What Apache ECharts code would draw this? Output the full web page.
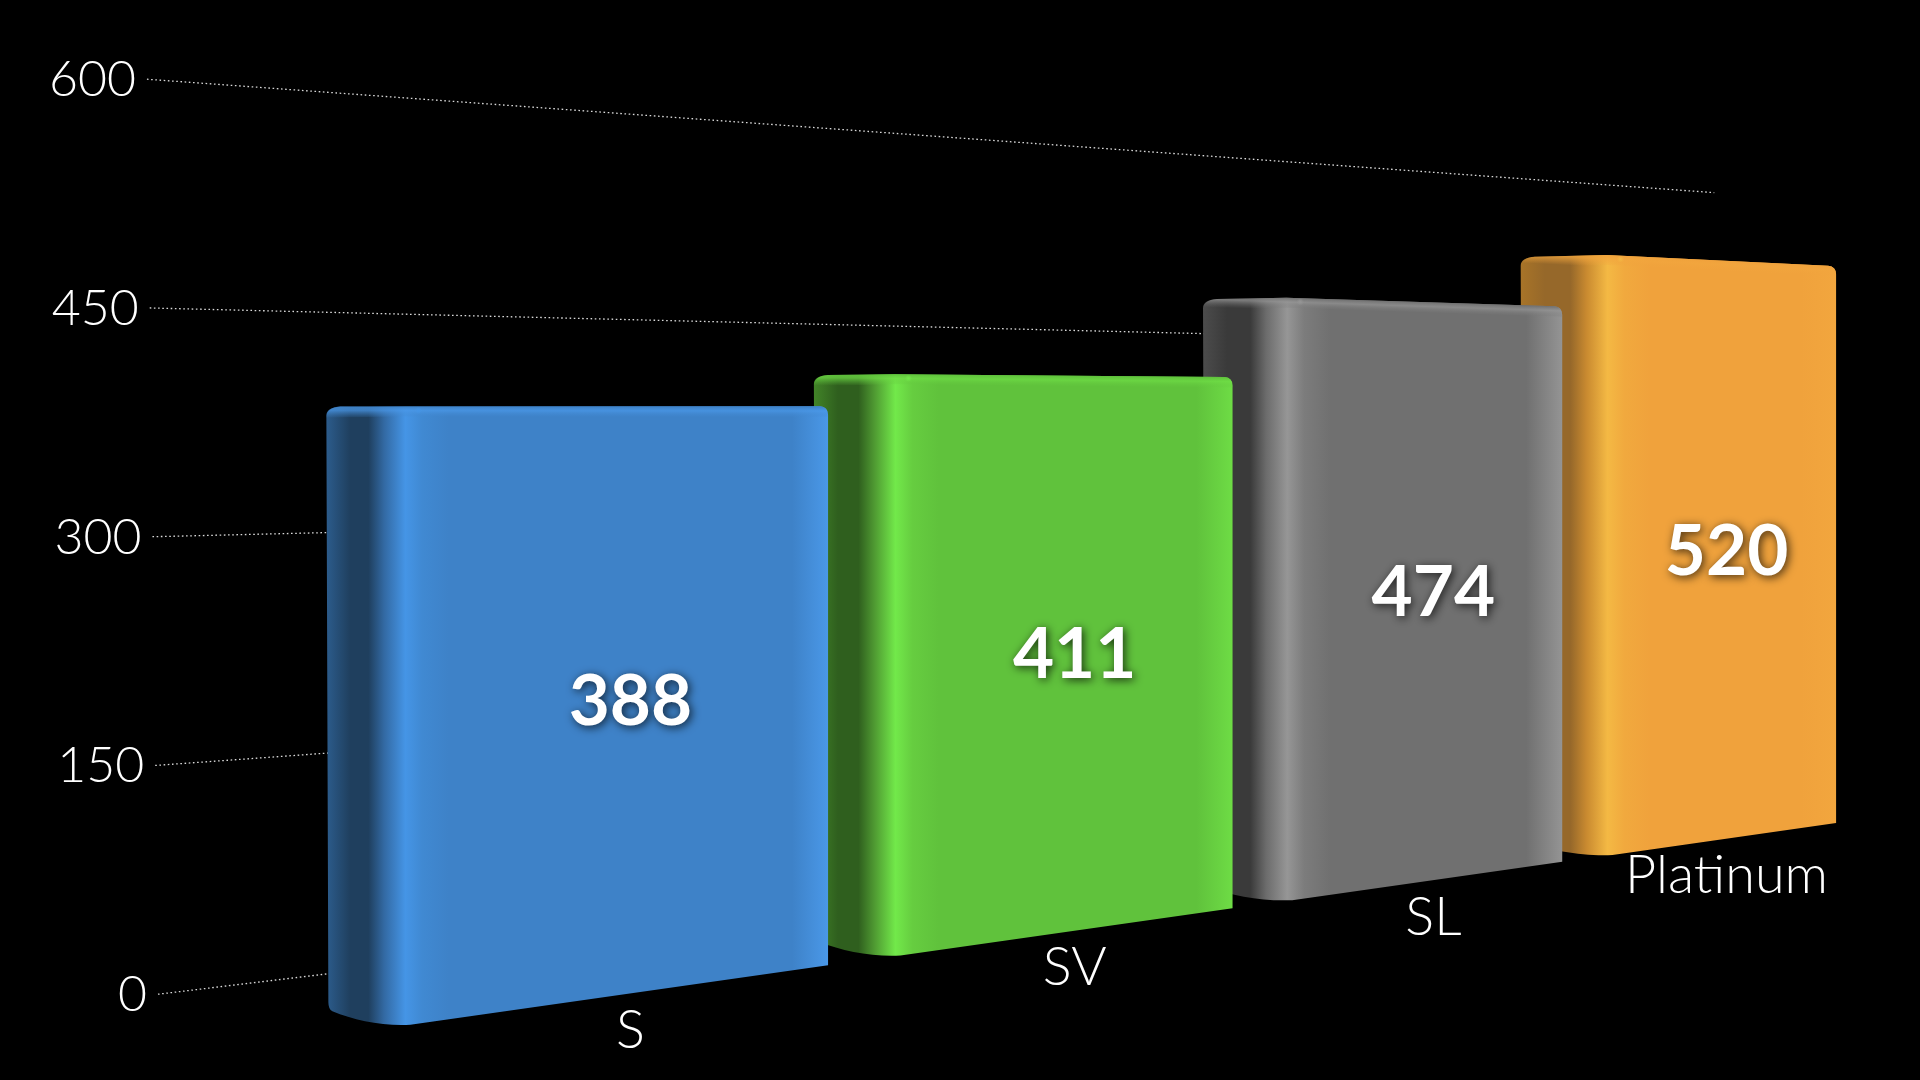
<!DOCTYPE html>
<html>
<head>
<meta charset="utf-8">
<style>html,body{margin:0;padding:0;background:#000}#c{width:1920px;height:1080px}</style>
<script src="https://cdn.jsdelivr.net/npm/echarts@6/dist/echarts.min.js"></script>
</head>
<body>
<div id="c"></div>
<script>
const categories = ['S', 'SV', 'SL', 'Platinum'];
const values = [388, 411, 474, 520];
const yTicks = [0, 150, 300, 450, 600];
const outerColors = ['#2c5c8c', '#428428', '#4c4c4c', '#a87428'];
const darkColors = ['#1f3f5e', '#2f5f1e', '#3a3a3a', '#96682a'];
const rampColors = ['#336aa4', '#4f9a32', '#6c6c6c', '#c98a30'];
const brightColors = ['#4595e6', '#72e94a', '#969696', '#f4b944'];
const softColors = ['#4089d2', '#66cd40', '#7c7c7c', '#f1a93e'];
const bodyColors = ['#3e82c8', '#60c23c', '#707070', '#f0a23c'];
const edgeColors = ['#4a98e8', '#6edc45', '#949494', '#f2a63e'];

const K = 1920 / 1568;
const GRID = {left: 147, right: 83, top: 78, bottom: 87};
const FLAT_UNIT = (1080 - GRID.top - GRID.bottom) / 600;
const BAND_W = (1920 - GRID.left - GRID.right) / categories.length;
const ZERO_Y = 1080 - GRID.bottom;

// Perspective of the bars' front plane, applied to the flat cartesian coordinates.
function proj(px, py) {
  const t = 276.1e-6 + (px - GRID.left) / BAND_W * 35e-6;
  const x = 3918 - 1 / t;
  const v = (ZERO_Y - py) / FLAT_UNIT;
  const y0 = 846 - 0.1412 * (x - 268);
  const s = 1.325 - 0.000366 * (x - 268);
  return [x * K, (y0 - s * v) * K];
}
const f = n => n.toFixed(2);
function hexA(hex, a) {
  const n = parseInt(hex.slice(1), 16);
  return `rgba(${n >> 16},${(n >> 8) & 255},${n & 255},${a})`;
}

function renderBar(params, api) {
  const i = api.value(0), v = api.value(1);
  const top = api.coord([i, v]), base = api.coord([i, 0]);
  const band = api.size([1, 0])[0];
  const lx = top[0] - band * 0.425, rx = top[0] + band * 0.425;
  const TL = proj(lx, top[1]), TR = proj(rx, top[1]), BL = proj(lx, base[1]), BR = proj(rx, base[1]);
  const ax = TL[0] - (78 + 2.6 * i), ay = TL[1] + 1 + 0.6 * i;
  const dx = ax + 2, dy = BL[1] - 17;
  const silhouette = [
    `M ${f(ax)} ${f(ay + 8)}`,
    `Q ${f(ax)} ${f(ay)} ${f(ax + 14)} ${f(ay - 1)}`,
    `L ${f(TL[0])} ${f(TL[1])}`,
    `L ${f(TR[0] - 8)} ${f(TR[1] - 0.5)}`,
    `Q ${f(TR[0])} ${f(TR[1])} ${f(TR[0])} ${f(TR[1] + 8)}`,
    `L ${f(BR[0])} ${f(BR[1])}`,
    `L ${f(BL[0] + 6)} ${f(BL[1] - 0.5)}`,
    `C ${f(BL[0] - 22)} ${f(BL[1] + 1)} ${f(dx + 26)} ${f(dy + 12)} ${f(dx + 4)} ${f(dy + 3)}`,
    `Q ${f(dx)} ${f(dy + 1)} ${f(dx)} ${f(dy - 6)}`,
    'Z'
  ].join(' ');
  const span = TR[0] - ax;
  const off = x => Math.max(0, Math.min(1, (x - ax) / span));
  const c = i;
  const fill = {
    type: 'linear', global: true, x: ax, y: 0, x2: TR[0], y2: 0,
    colorStops: [
      {offset: 0, color: outerColors[c]},
      {offset: off(ax + 24), color: darkColors[c]},
      {offset: off(TL[0] - 36), color: darkColors[c]},
      {offset: off(TL[0] - 20), color: rampColors[c]},
      {offset: off(TL[0] + 1), color: brightColors[c]},
      {offset: off(TL[0] + 18), color: softColors[c]},
      {offset: off(TL[0] + 44), color: bodyColors[c]},
      {offset: off(TR[0] - 36), color: bodyColors[c]},
      {offset: 1, color: edgeColors[c]}
    ]
  };
  // rounded top edge catching the light
  const slope = (TR[1] - TL[1]) / (TR[0] - TL[0]);
  const nLen = Math.hypot(slope, 1);
  const gx = TL[0], gy = TL[1];
  const strip = [
    `M ${f(ax)} ${f(ay + 10)}`,
    `Q ${f(ax)} ${f(ay)} ${f(ax + 14)} ${f(ay - 1)}`,
    `L ${f(TL[0])} ${f(TL[1])}`,
    `L ${f(TR[0] - 8)} ${f(TR[1] - 0.5)}`,
    `Q ${f(TR[0])} ${f(TR[1])} ${f(TR[0])} ${f(TR[1] + 10)}`,
    `L ${f(TL[0])} ${f(TL[1] + 10)}`,
    'Z'
  ].join(' ');
  const stripFill = {
    type: 'linear', global: true,
    x: gx, y: gy, x2: gx - slope / nLen * 12, y2: gy + 1 / nLen * 12,
    colorStops: [
      {offset: 0, color: hexA(bodyColors[c], 0.95)},
      {offset: 0.35, color: hexA(edgeColors[c], 0.7)},
      {offset: 1, color: hexA(bodyColors[c], 0)}
    ]
  };
  const glow = {
    type: 'radial', x: 0.5, y: 0.5, r: 0.5,
    colorStops: [
      {offset: 0, color: hexA(brightColors[c], 1)},
      {offset: 1, color: hexA(brightColors[c], 0)}
    ]
  };
  const mid = proj(top[0], (top[1] + base[1]) / 2);
  const foot = proj(top[0], base[1]);
  const nudge = i < 3 ? 3.5 : 1;
  return {
    type: 'group',
    children: [
      {type: 'path', shape: {pathData: silhouette}, style: {fill: fill}, silent: true},
      {type: 'path', shape: {pathData: strip}, style: {fill: stripFill}, silent: true},
      {type: 'ellipse', shape: {cx: TL[0] + 14, cy: TL[1] + 4, rx: 32, ry: 3.5}, style: {fill: glow}, silent: true},
      {
        type: 'text', x: mid[0] + nudge, y: mid[1] + 2,
        style: {
          text: String(v), fill: '#ffffff', font: '700 71px Lato, sans-serif',
          align: 'center', verticalAlign: 'middle',
          textShadowColor: 'rgba(0,0,0,0.75)', textShadowBlur: 10,
          textShadowOffsetX: 2, textShadowOffsetY: 2
        }
      },
      {
        type: 'text', x: foot[0] + nudge, y: foot[1] + 37,
        style: {
          text: categories[i], fill: '#ffffff', font: '300 54px Lato, sans-serif',
          align: 'center', verticalAlign: 'middle'
        }
      }
    ]
  };
}

function renderGridLine(params, api) {
  const p = api.coord([0, api.value(1)]);
  const py = p[1] / K;
  const x0 = 120 + 9 * (py - 65) / 745;
  const xEnd = 1400;
  const yEnd = py + (345 - py) / (4007 - x0) * (xEnd - x0);
  return {
    type: 'line',
    shape: {x1: x0 * K, y1: (py + 1) * K, x2: xEnd * K, y2: (yEnd + 1) * K},
    style: {stroke: 'rgba(255,255,255,0.85)', lineWidth: 1.3, lineDash: [1.6, 2.6]},
    silent: true
  };
}

const rich = {};
yTicks.forEach(t => {
  rich['t' + t] = {
    fontFamily: 'Lato, sans-serif', fontWeight: 300, fontSize: 50, color: '#ffffff',
    padding: [4, t / 600 * 11, 0, 0]
  };
});

const chart = echarts.init(document.getElementById('c'), null, {renderer: 'canvas'});
chart.setOption({
  backgroundColor: '#000000',
  animation: false,
  grid: GRID,
  xAxis: {type: 'category', data: categories, show: false},
  yAxis: {
    type: 'value', min: 0, max: 600, interval: 150,
    axisLine: {show: false}, axisTick: {show: false}, splitLine: {show: false},
    axisLabel: {margin: 0, formatter: val => `{t${val}|${val}}`, rich: rich}
  },
  series: [
    {
      type: 'custom', name: 'grid', z: 1, silent: true,
      coordinateSystem: 'cartesian2d', clip: false,
      renderItem: renderGridLine,
      data: yTicks.map(t => [0, t])
    },
    {
      type: 'custom', name: 'bars', z: 2, silent: true,
      coordinateSystem: 'cartesian2d', clip: false,
      renderItem: renderBar,
      data: values.map((v, i) => [i, v]).reverse()
    }
  ]
});
</script>
</body>
</html>
